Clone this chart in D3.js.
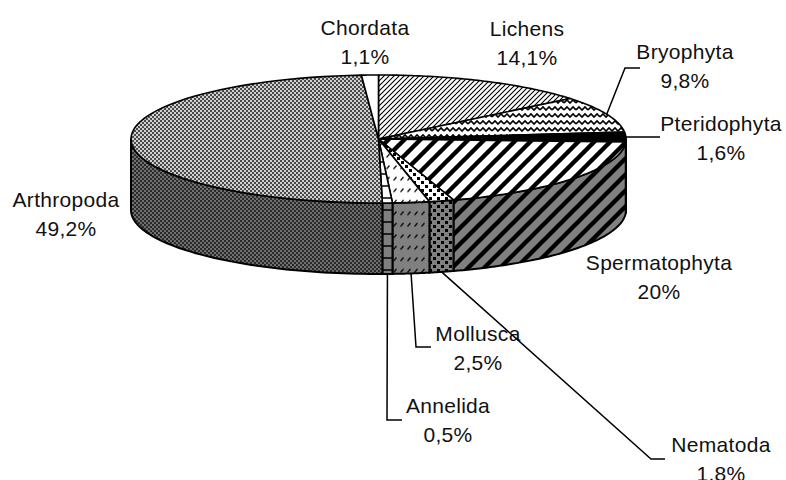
<!DOCTYPE html>
<html>
<head>
<meta charset="utf-8">
<script src="https://cdnjs.cloudflare.com/ajax/libs/d3/7.8.5/d3.min.js"></script>
<style>
  html, body { margin: 0; padding: 0; background: #fff; overflow: hidden; }
  text { font-family: "Liberation Sans", Arial, sans-serif; font-size: 21px; letter-spacing: 0.3px; fill: #111; }
</style>
</head>
<body>
<svg id="chart" width="786" height="480"></svg>
<script>
// categories and the printed labels
const categories = ["Lichens", "Bryophyta", "Pteridophyta", "Spermatophyta", "Nematoda", "Mollusca", "Annelida", "Arthropoda", "Chordata"];
const percentLabels = ["14,1%", "9,8%", "1,6%", "20%", "1,8%", "2,5%", "0,5%", "49,2%", "1,1%"];
// slice sizes as they were measured on the drawing (the printed numbers add up to 100.6)
const sliceShares = [14.1, 9.15, 2.5, 19.35, 1.6, 2.4, 0.65, 49.15, 1.1];

// page layout
const cx = 378.5, cy = 139, rx = 247.5, ry = 64, depth = 71;

const svg = d3.select("#chart");
const defs = svg.append("defs");

// Patterns. Each one is built twice, light for the top and dark for the wall
function makePattern(id, w, h, bg, draw) {
  const p = defs.append("pattern")
    .attr("id", id)
    .attr("patternUnits", "userSpaceOnUse")
    .attr("width", w)
    .attr("height", h);
  p.append("rect").attr("width", w).attr("height", h).attr("fill", bg);
  draw(p);
}

function stripes(size, width) {
  return p => p.append("path")
    .attr("d", `M${-size},${size} L${size},${-size} M0,${size} L${size},0 M0,${2 * size} L${2 * size},0`)
    .attr("stroke", "#000")
    .attr("stroke-width", width);
}

function checker(ink) {
  return p => {
    p.append("rect").attr("width", 2).attr("height", 2).attr("fill", ink);
    p.append("rect").attr("x", 2).attr("y", 2).attr("width", 2).attr("height", 2).attr("fill", ink);
  };
}

const patternDraw = {
  Lichens: { w: 5, h: 5, draw: stripes(5, 1.1) },
  Bryophyta: { w: 12, h: 7, draw: p => p.append("path")
      .attr("d", "M0,5 L3,2 L6,5 L9,2 L12,5 M0,12 L3,9 L6,12 L9,9 L12,12 M0,-2 L3,-5 L6,-2 L9,-5 L12,-2")
      .attr("fill", "none").attr("stroke", "#000").attr("stroke-width", 1.6) },
  Pteridophyta: { w: 4, h: 4, draw: p => p.append("rect").attr("width", 4).attr("height", 4).attr("fill", "#000") },
  Spermatophyta: { w: 16, h: 16, draw: stripes(16, 4.4) },
  Nematoda: { w: 8, h: 8, draw: p => {
      p.append("rect").attr("x", 1).attr("y", 1).attr("width", 3).attr("height", 3).attr("fill", "#000");
      p.append("rect").attr("x", 5).attr("y", 5).attr("width", 3).attr("height", 3).attr("fill", "#000");
    } },
  Mollusca: { w: 7, h: 11.5, draw: p => p.append("path")
      .attr("d", "M1.5,8 L4.5,4.5")
      .attr("stroke", "#000").attr("stroke-width", 1.3) },
  Annelida: { w: 12, h: 12, draw: p => p.append("path")
      .attr("d", "M0,6 H12")
      .attr("stroke", "#000").attr("stroke-width", 1.5) },
  Arthropoda: { w: 4, h: 4, draw: null },
  Chordata: { w: 4, h: 4, draw: () => {} }
};

categories.forEach((c, i) => {
  const d = patternDraw[c];
  if (c === "Arthropoda") {
    makePattern("top" + i, d.w, d.h, "#d0d0d0", checker("#4a4a4a"));
    makePattern("side" + i, d.w, d.h, "#707070", checker("#2a2a2a"));
  } else {
    makePattern("top" + i, d.w, d.h, "#fff", d.draw);
    makePattern("side" + i, d.w, d.h, "#808080", d.draw);
  }
});

// slice angles, clockwise from the top of the pie
const slices = d3.pie().sort(null).value(d => d)(sliceShares);

const px = a => cx + rx * Math.sin(a);
const py = a => cy - ry * Math.cos(a);
const arcPoints = (a0, a1) => d3.range(0, 61).map(k => {
  const a = a0 + (a1 - a0) * k / 60;
  return [px(a), py(a)];
});
const line = d3.line();

// the wall: only the part of each slice between 90 and 270 degrees shows
slices.forEach((s, i) => {
  const a0 = Math.max(s.startAngle, Math.PI / 2);
  const a1 = Math.min(s.endAngle, 3 * Math.PI / 2);
  if (a1 <= a0) return;
  const upper = arcPoints(a0, a1);
  const lower = upper.map(p => [p[0], p[1] + depth]).reverse();
  svg.append("path")
    .attr("d", line(upper.concat(lower)) + "Z")
    .attr("fill", `url(#side${i})`)
    .attr("stroke", "#000")
    .attr("stroke-width", 2)
    .attr("stroke-linejoin", "round");
});

// the top
slices.forEach((s, i) => {
  svg.append("path")
    .attr("d", line([[cx, cy]].concat(arcPoints(s.startAngle, s.endAngle))) + "Z")
    .attr("fill", `url(#top${i})`)
    .attr("stroke", "#000")
    .attr("stroke-width", 1.6)
    .attr("stroke-linejoin", "round");
});

// label anchors in page pixels, in the same order as the categories
const labelX = [527, 685, 721, 659, 721, 478, 448, 66, 365];
const labelY = [36, 59, 131, 270, 452, 341, 413, 207, 35];
const lineGap = 29;

categories.forEach((c, i) => {
  const t = svg.append("text").attr("text-anchor", "middle");
  t.append("tspan").attr("x", labelX[i]).attr("y", labelY[i]).text(c);
  t.append("tspan").attr("x", labelX[i]).attr("y", labelY[i] + lineGap).text(percentLabels[i]);
});

// leader lines run from the rim of the slice to a point next to the label
const midAngle = s => (s.startAngle + s.endAngle) / 2;
const leaders = [
  { i: 1, bend: [625, 68], end: [640, 68], drop: 0 },
  { i: 2, bend: [645, 137], end: [660, 137], drop: 0 },
  { i: 4, bend: [651, 459], end: [665, 459], drop: depth },
  { i: 5, bend: [416, 347], end: [431, 347], drop: depth },
  { i: 6, bend: [387, 420], end: [402, 420], drop: depth }
];
leaders.forEach(l => {
  const a = midAngle(slices[l.i]);
  svg.append("path")
    .attr("d", line([[px(a), py(a) + l.drop], l.bend, l.end]))
    .attr("fill", "none")
    .attr("stroke", "#000")
    .attr("stroke-width", 1.5);
});
</script>
</body>
</html>
